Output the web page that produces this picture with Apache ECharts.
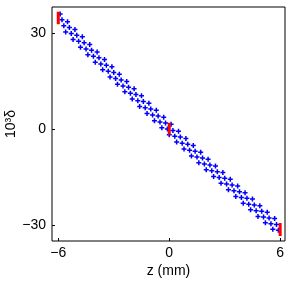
<!DOCTYPE html>
<html><head><meta charset="utf-8">
<script src="https://cdn.jsdelivr.net/npm/echarts@6/dist/echarts.min.js"></script>
<style>html,body{margin:0;padding:0;background:#fff}#c{width:288px;height:288px}</style>
</head><body><div id="c"></div>
<script>
// Blue scatter band (4 tracks of points), z in mm, delta in 1e-3
const zA = [-5.9,-5.5,-5.1,-4.7,-4.3,-3.9,-3.5,-3.1,-2.7,-2.3,-1.9,-1.5,-1.1,-0.7,-0.3,0.1,0.5,0.9,1.3,1.7,2.1,2.5,2.9,3.3,3.7,4.1,4.5,4.9,5.3,5.7];
const dA = [36.0,33.6,31.2,28.9,26.5,24.1,21.8,19.5,17.2,14.9,12.6,10.4,8.1,5.9,3.7,1.5,-0.7,-2.9,-5.1,-7.2,-9.4,-11.5,-13.6,-15.7,-17.8,-19.9,-21.9,-24.0,-26.0,-28.0];
const zB = [-5.8,-5.4,-5.0,-4.6,-4.2,-3.8,-3.4,-3.0,-2.6,-2.2,-1.8,-1.4,-1.0,-0.6,-0.2,0.2,0.6,1.0,1.4,1.8,2.2,2.6,3.0,3.4,3.8,4.2,4.6,5.0,5.4,5.8];
const dB = [34.2,31.8,29.4,27.0,24.7,22.3,20.0,17.7,15.4,13.1,10.8,8.6,6.3,4.1,1.9,-0.4,-2.5,-4.7,-6.9,-9.0,-11.2,-13.3,-15.4,-17.5,-19.6,-21.6,-23.7,-25.7,-27.8,-29.8];
const zC = [-5.7,-5.3,-4.9,-4.5,-4.1,-3.7,-3.3,-2.9,-2.5,-2.1,-1.7,-1.3,-0.9,-0.5,-0.1,0.3,0.7,1.1,1.5,1.9,2.3,2.7,3.1,3.5,3.9,4.3,4.7,5.1,5.5,5.9];
const dC = [32.3,29.9,27.5,25.1,22.8,20.4,18.1,15.8,13.5,11.2,8.9,6.7,4.4,2.2,0.0,-2.2,-4.4,-6.6,-8.7,-10.9,-13.0,-15.1,-17.2,-19.3,-21.4,-23.5,-25.5,-27.5,-29.6,-31.6];
const zD = [-5.6,-5.2,-4.8,-4.4,-4.0,-3.6,-3.2,-2.8,-2.4,-2.0,-1.6,-1.2,-0.8,-0.4,0,0.4,0.8,1.2,1.6,2.0,2.4,2.8,3.2,3.6,4.0,4.4,4.8,5.2,5.6];
const dD = [30.4,28.0,25.6,23.3,20.9,18.6,16.3,14.0,11.7,9.4,7.1,4.9,2.6,0.4,-1.8,-4.0,-6.2,-8.4,-10.5,-12.7,-14.8,-16.9,-19.0,-21.1,-23.2,-25.2,-27.3,-29.3,-31.3];
// Red bars
const redZ = [-6, 0, 6];
const redTop = [36.7, 2.0, -29.4];
const redBottom = [32.8, -1.8, -33.4];
// Ticks
const xTicks = [-6, 0, 6];
const yTicks = [-30, 0, 30];

const zip = (z, d) => z.map((v, i) => [v, d[i]]);
const cross = 'path://M1.75,0H3.25V1.75H5V3.25H3.25V5H1.75V3.25H0V1.75H1.75Z';
const FONT = '"Liberation Sans", Arial, sans-serif';
const fmt = v => String(v).replace('-', '\u2212');

const blueSeries = [[zA,dA],[zB,dB],[zC,dC],[zD,dD]].map(([z,d]) => ({
  type: 'scatter', data: zip(z, d), symbol: cross, symbolSize: 5,
  itemStyle: {color: '#0000ff', opacity: 1},
  emphasis: {disabled: true}, silent: true, z: 2
}));
const redSeries = redZ.map((z, i) => ({
  type: 'line', data: [[z, redTop[i]], [z, redBottom[i]]], symbol: 'none',
  lineStyle: {color: '#ff0000', width: 3}, silent: true, z: 3
}));

const chart = echarts.init(document.getElementById('c'), null, {renderer: 'canvas'});
chart.setOption({
  animation: false,
  grid: {left: 52, right: 3, top: 7, bottom: 47, outerBoundsMode: 'none', containLabel: false,
         show: true, borderColor: '#000', borderWidth: 1, backgroundColor: 'transparent'},
  xAxis: {
    type: 'value', min: -6.34, max: 6.26,
    name: 'z (mm)', nameLocation: 'middle', nameGap: 23, nameMoveOverlap: false,
    nameTextStyle: {fontFamily: FONT, fontSize: 14, color: '#000'},
    axisLine: {show: false, onZero: false},
    axisTick: {show: true, inside: true, length: 3, customValues: xTicks, lineStyle: {color: '#000'}},
    axisLabel: {customValues: xTicks, formatter: fmt, fontFamily: FONT, fontSize: 14, color: '#000', margin: 5},
    splitLine: {show: false}
  },
  yAxis: {
    type: 'value', min: -35.0, max: 38.2,
    name: '10\u00b3\u03b4', nameLocation: 'middle', nameGap: 34, nameRotate: 90, nameMoveOverlap: false,
    nameTextStyle: {fontFamily: FONT, fontSize: 14, color: '#000'},
    axisLine: {show: false, onZero: false},
    axisTick: {show: true, inside: true, length: 3, customValues: yTicks, lineStyle: {color: '#000'}},
    axisLabel: {customValues: yTicks, formatter: fmt, fontFamily: FONT, fontSize: 14, color: '#000', margin: 6},
    splitLine: {show: false}
  },
  series: blueSeries.concat(redSeries)
});
</script></body></html>
